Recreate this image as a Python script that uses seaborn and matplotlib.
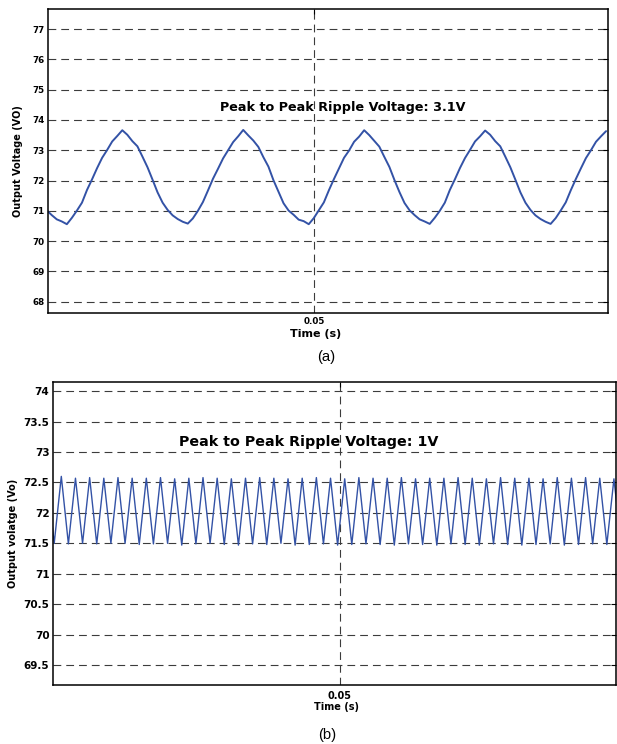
import numpy as np
import pandas as pd
import seaborn as sns
import matplotlib
matplotlib.use("Agg")
import matplotlib.pyplot as plt

# ---- panel (a): output voltage, 3.1 V ripple (sampled every 1/2880 s) ----
t_start_a = 0.03155
dt_a = 1 / 2880
volt_a = [
    71.02, 70.86, 70.72, 70.65,
    70.56, 70.77, 71.01, 71.27, 71.69, 72.04, 72.41, 72.75, 73.01, 73.29, 73.47, 73.66,
    73.51, 73.30, 73.13, 72.79, 72.44, 72.03, 71.61, 71.27, 71.03, 70.85, 70.73, 70.64,
    70.58, 70.75, 71.00, 71.29, 71.67, 72.06, 72.39, 72.73, 73.00, 73.27, 73.46, 73.67,
    73.49, 73.32, 73.11, 72.77, 72.46, 72.01, 71.63, 71.25, 71.01, 70.87, 70.71, 70.66,
    70.56, 70.76, 71.02, 71.28, 71.68, 72.05, 72.40, 72.75, 72.99, 73.28, 73.45, 73.66,
    73.50, 73.31, 73.12, 72.78, 72.45, 72.02, 71.62, 71.26, 71.02, 70.86, 70.72, 70.65,
    70.57, 70.77, 71.00, 71.27, 71.69, 72.04, 72.41, 72.74, 73.01, 73.29, 73.46, 73.65,
    73.51, 73.30, 73.13, 72.79, 72.44, 72.03, 71.61, 71.27, 71.03, 70.85, 70.73, 70.64,
    70.57, 70.76, 71.01, 71.28, 71.68, 72.05, 72.40, 72.74, 73.00, 73.28, 73.46, 73.63,
]
yticks_a = [68, 69, 70, 71, 72, 73, 74, 75, 76, 77]

# ---- panel (b): output voltage, 1 V ripple (peaks / troughs, 1 ms period) ----
t_first_peak_b = 0.029332
period_b = 0.001
peaks_b = [72.56, 72.60, 72.57, 72.58, 72.57, 72.58, 72.57, 72.57, 72.58, 72.56,
           72.57, 72.58, 72.57, 72.56, 72.57, 72.58, 72.57, 72.56, 72.57, 72.58,
           72.57, 72.56, 72.58, 72.57, 72.57, 72.58, 72.56, 72.57, 72.57, 72.58,
           72.57, 72.56, 72.58, 72.57, 72.57, 72.56, 72.58, 72.57, 72.58, 72.57,
           72.56]
troughs_b = [71.50, 71.49, 71.50, 71.49, 71.50, 71.50, 71.48, 71.49, 71.50, 71.47,
             71.49, 71.50, 71.48, 71.47, 71.49, 71.48, 71.50, 71.47, 71.48, 71.49,
             71.47, 71.48, 71.49, 71.48, 71.47, 71.49, 71.48, 71.47, 71.49, 71.48,
             71.47, 71.49, 71.48, 71.47, 71.48, 71.49, 71.47, 71.48, 71.49, 71.48,
             71.50]
yticks_b = [69.5, 70, 70.5, 71, 71.5, 72, 72.5, 73, 73.5, 74]
ytick_labels_b = ["69.5", "70", "70.5", "71", "71.5", "72", "72.5", "73", "73.5", "74"]

df_a = pd.DataFrame({"t": t_start_a + dt_a * np.arange(len(volt_a)), "v": volt_a})
t_peaks = t_first_peak_b + period_b * np.arange(len(peaks_b))
df_b = pd.DataFrame({
    "t": np.column_stack([t_peaks, t_peaks + period_b / 2]).ravel(),
    "v": np.column_stack([peaks_b, troughs_b]).ravel(),
})

sns.set_style("white")
plt.rcParams["font.family"] = ["DejaVu Sans"]
plt.rcParams["font.weight"] = "bold"
plt.rcParams["text.color"] = "black"
plt.rcParams["axes.labelcolor"] = "black"
plt.rcParams["xtick.color"] = "black"
plt.rcParams["ytick.color"] = "black"

line_color = "#3352a6"
grid_kw = dict(color="#3c3c3c", linestyle=(0, (7, 4.5)), linewidth=0.8)

fig = plt.figure(figsize=(6.17, 7.44), dpi=100)
ax_a = fig.add_axes([48 / 617, 1 - 313 / 744, 559.5 / 617, 304 / 744])
ax_b = fig.add_axes([53 / 617, 1 - 685 / 744, 563 / 617, 303.5 / 744])

sns.lineplot(data=df_a, x="t", y="v", ax=ax_a, color=line_color, linewidth=1.4, estimator=None)
sns.lineplot(data=df_b, x="t", y="v", ax=ax_b, color=line_color, linewidth=1.0, estimator=None)

ax_a.set_xlim(0.03164, 0.07019)
ax_a.set_ylim(67.63, 77.66)
ax_a.set_yticks(yticks_a, [str(v) for v in yticks_a])
ax_b.set_xlim(0.029746, 0.069478)
ax_b.set_ylim(69.17, 74.16)
ax_b.set_yticks(yticks_b, ytick_labels_b)

for ax in (ax_a, ax_b):
    ax.set_xticks([0.05], ["0.05"])
    ax.grid(True, **grid_kw)
    for s in ax.spines.values():
        s.set_visible(True)
        s.set_color("black")
        s.set_linewidth(1.1)

ax_a.tick_params(axis="y", direction="in", length=3.5, width=0.8, right=True, labelsize=6.3, pad=2.2)
ax_a.tick_params(axis="x", direction="in", length=3.5, width=0.8, top=True, labelsize=6.3, pad=3)
ax_b.tick_params(axis="y", direction="in", length=3.5, width=0.8, right=True, labelsize=7.5, pad=2.6)
ax_b.tick_params(axis="x", direction="in", length=3.5, width=0.8, top=True, labelsize=7, pad=4)

ax_a.set_xlabel("Time (s)", fontsize=8, fontweight="bold")
ax_a.set_ylabel("Output Voltage (VO)", fontsize=7, fontweight="bold")
ax_a.xaxis.set_label_coords(0.479, -0.0526)
ax_a.yaxis.set_label_coords(-0.045, 0.5)
ax_b.set_xlabel("Time (s)", fontsize=7, fontweight="bold")
ax_b.set_ylabel("Output volatge (Vo)", fontsize=7, fontweight="bold")
ax_b.xaxis.set_label_coords(0.504, -0.056)
ax_b.yaxis.set_label_coords(-0.062, 0.5)

ax_a.text(0.05196, 74.40, "Peak to Peak Ripple Voltage: 3.1V", fontsize=9.2,
          fontweight="bold", ha="center", va="center")
ax_b.text(0.04781, 73.16, "Peak to Peak Ripple Voltage: 1V", fontsize=10.3,
          fontweight="bold", ha="center", va="center")

fig.text(326 / 617, 1 - 357.5 / 744, "(a)", fontsize=10.6, fontweight="normal",
         family=["Liberation Sans", "DejaVu Sans"], ha="center", va="center")
fig.text(327 / 617, 1 - 735 / 744, "(b)", fontsize=10.6, fontweight="normal",
         family=["Liberation Sans", "DejaVu Sans"], ha="center", va="center")

fig.savefig("out.png", dpi=100)
